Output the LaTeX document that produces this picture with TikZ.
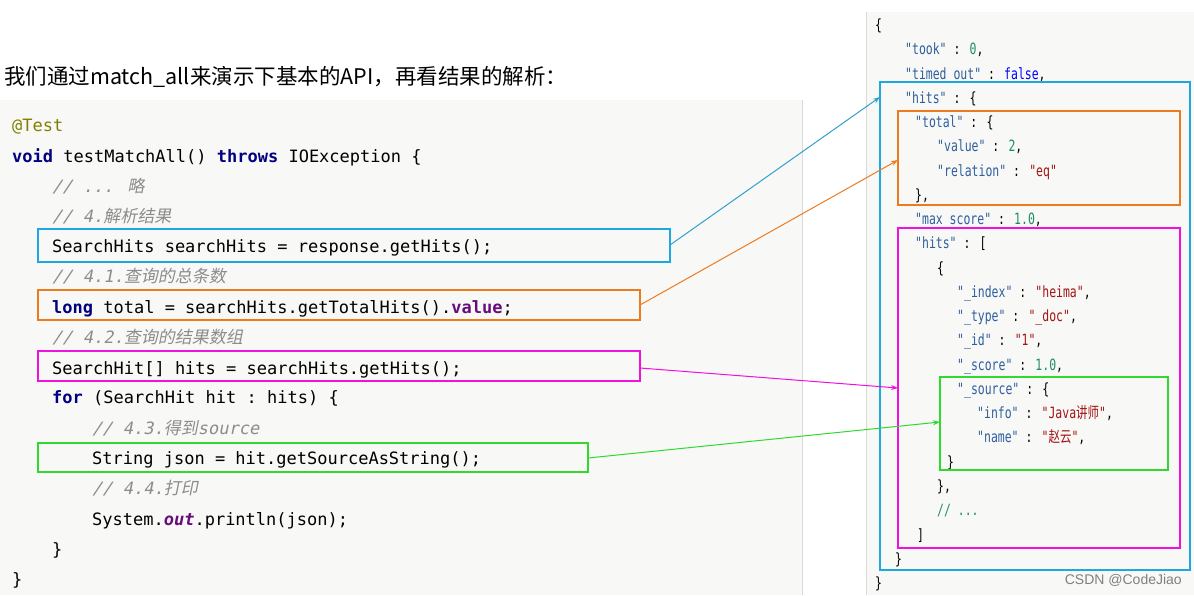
\documentclass[tikz,border=0pt]{standalone}
\usepackage{fontspec}
\setmonofont{DejaVu Sans Mono}
\newfontfamily\cjk{Noto Sans CJK SC}
\newfontfamily\cjki{Noto Sans CJK SC}[FakeSlant=0.2]
\newfontfamily\monoi{DejaVu Sans Mono}[FakeSlant=0.2]
\newfontfamily\jmono{DejaVu Sans Mono}[FakeStretch=0.74]
\newfontfamily\jcjk{Noto Sans CJK SC}[FakeStretch=0.74]
\usetikzlibrary{arrows.meta}
\definecolor{kw}{HTML}{000080}
\definecolor{cm}{HTML}{8C8C8C}
\definecolor{an}{HTML}{808000}
\definecolor{pu}{HTML}{660E7A}
\definecolor{jk}{HTML}{2F5F9F}
\definecolor{jn}{HTML}{1E8C64}
\definecolor{js}{HTML}{A31515}
\definecolor{jb}{HTML}{0000FF}
\definecolor{cblue}{HTML}{1EA8E0}
\definecolor{corange}{HTML}{EE7A1E}
\definecolor{cmag}{HTML}{F010E0}
\definecolor{cgreen}{HTML}{30D830}
\definecolor{bg}{HTML}{F8F8F6}
\newcommand{\K}[1]{\textcolor{kw}{\bfseries #1}}
\newcommand{\C}[2]{\textcolor{cm}{\monoi #1\cjki #2}}
\newcommand{\jk}[1]{\textcolor{jk}{"#1"}}
\newcommand{\jn}[1]{\textcolor{jn}{#1}}
\newcommand{\js}[1]{\textcolor{js}{"#1"}}
\begin{document}
\begin{tikzpicture}[x=1pt,y=-1pt,
  code/.style={anchor=base west,inner sep=0pt,font=\ttfamily\fontsize{17}{17}\selectfont},
  json/.style={anchor=base west,inner sep=0pt,font=\jmono\fontsize{15.5}{15.5}\selectfont},
  box/.style={draw=#1,line width=1.2pt},
  arr/.style={draw=#1,line width=1pt,-{Stealth[length=7pt,width=5pt]}}]
\useasboundingbox (0,0) rectangle (1194,595);
\fill[bg] (0,100) rectangle (802,595);
\draw[gray!30] (802,100) -- (802,595);
\fill[bg] (866,12) rectangle (1194,595);
\draw[gray!30] (866,12) -- (866,595);
\node[anchor=base west,inner sep=0pt,font=\cjk\fontsize{21.5}{22}\selectfont] (title) at (4,84) {我们通过match\_all来演示下基本的API，再看结果的解析：};
% code
\node[code] (l1) at (12,131) {\textcolor{an}{@Test}};
\node[code] (l2) at (12,162) {\K{void} testMatchAll() \K{throws} IOException \{};
\node[code] (l3) at (52,192) {\C{// ... }{略}};
\node[code] (l4) at (52,222) {\C{// 4.}{解析结果}};
\node[code] (l5) at (52,252) {SearchHits searchHits = response.getHits();};
\node[code] (l6) at (52,282) {\C{// 4.1.}{查询的总条数}};
\node[code] (l7) at (52,313) {\K{long} total = searchHits.getTotalHits().\textcolor{pu}{\bfseries value};};
\node[code] (l8) at (52,343) {\C{// 4.2.}{查询的结果数组}};
\node[code] (l9) at (52,374) {SearchHit[] hits = searchHits.getHits();};
\node[code] (l10) at (52,403) {\K{for} (SearchHit hit : hits) \{};
\node[code] (l11) at (92,434) {\C{// 4.3.}{得到}\textcolor{cm}{\monoi source}};
\node[code] (l12) at (92,464) {String json = hit.getSourceAsString();};
\node[code] (l13) at (92,494) {\C{// 4.4.}{打印}};
\node[code] (l14) at (92,525) {System.\textcolor{pu}{\bfseries\itshape out}.println(json);};
\node[code] (l15) at (52,555) {\}};
\node[code] (l16) at (12,585) {\}};
% json
\node[json] (j1) at (875,30) {\{};
\node[json] (j2) at (905,54) {\jk{took} : \jn{0},};
\node[json] (j3) at (905,79) {\jk{timed\_out} : \textcolor{jb}{false},};
\node[json] (j4) at (905,103) {\jk{hits} : \{};
\node[json] (j5) at (915,127) {\jk{total} : \{};
\node[json] (j6) at (937,151) {\jk{value} : \jn{2},};
\node[json] (j7) at (937,176) {\jk{relation} : \js{eq}};
\node[json] (j8) at (915,200) {\},};
\node[json] (j9) at (915,224) {\jk{max\_score} : \jn{1.0},};
\node[json] (j10) at (915,248) {\jk{hits} : [};
\node[json] (j11) at (937,273) {\{};
\node[json] (j12) at (957,297) {\jk{\_index} : \js{heima},};
\node[json] (j13) at (957,321) {\jk{\_type} : \js{\_doc},};
\node[json] (j14) at (957,345) {\jk{\_id} : \js{1},};
\node[json] (j15) at (957,370) {\jk{\_score} : \jn{1.0},};
\node[json] (j16) at (957,394) {\jk{\_source} : \{};
\node[json] (j17) at (977,418) {\jk{info} : \textcolor{js}{"Java{\jcjk 讲师}"},};
\node[json] (j18) at (977,442) {\jk{name} : \textcolor{js}{"{\jcjk 赵云}"},};
\node[json] (j19) at (947,467) {\}};
\node[json] (j20) at (937,491) {\},};
\node[json] (j21) at (937,515) {\textcolor{jn}{// ...}};
\node[json] (j22) at (917,540) {]};
\node[json] (j23) at (895,564) {\}};
\node[json] (j24) at (875,588) {\}};
\node[anchor=base east,inner sep=0pt,font=\fontspec{Liberation Sans}\fontsize{14}{14}\selectfont,text=gray] (wm) at (1182,584) {CSDN @CodeJiao};
% boxes
\coordinate (a1) at (38,229); \coordinate (a2) at (670,262);
\coordinate (b1) at (38,290); \coordinate (b2) at (640,320);
\coordinate (c1) at (38,351); \coordinate (c2) at (640,381);
\coordinate (d1) at (38,443); \coordinate (d2) at (588,472);
\coordinate (A1) at (880,82); \coordinate (A2) at (1190,570);
\coordinate (B1) at (898,111); \coordinate (B2) at (1180,205);
\coordinate (C1) at (898,228); \coordinate (C2) at (1180,548);
\coordinate (D1) at (940,377); \coordinate (D2) at (1168,470);
\draw[box=cblue] (a1) rectangle (a2); \draw[box=cblue] (A1) rectangle (A2);
\draw[box=corange] (b1) rectangle (b2); \draw[box=corange] (B1) rectangle (B2);
\draw[box=cmag] (c1) rectangle (c2); \draw[box=cmag] (C1) rectangle (C2);
\draw[box=cgreen] (d1) rectangle (d2); \draw[box=cgreen] (D1) rectangle (D2);
\coordinate (as) at (670,245); \coordinate (ae) at (880,97);
\coordinate (bs) at (640,305); \coordinate (be) at (898,160);
\coordinate (cs) at (640,368); \coordinate (ce) at (898,388);
\coordinate (ds) at (588,458); \coordinate (de) at (940,422);
\draw[arr=cblue!80!gray] (as) -- (ae);
\draw[arr=corange] (bs) -- (be);
\draw[arr=cmag] (cs) -- (ce);
\draw[arr=cgreen] (ds) -- (de);
\end{tikzpicture}
\end{document}
